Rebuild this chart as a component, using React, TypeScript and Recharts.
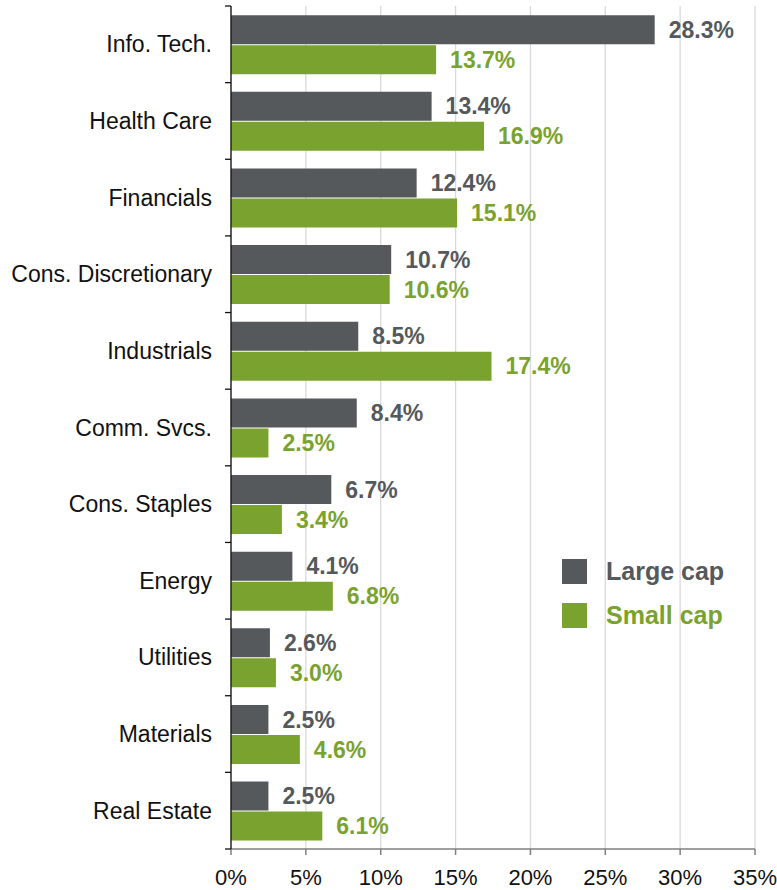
import React from 'react';
import { BarChart, Bar, XAxis, YAxis, CartesianGrid, LabelList } from 'recharts';

const sectors = [
  'Info. Tech.',
  'Health Care',
  'Financials',
  'Cons. Discretionary',
  'Industrials',
  'Comm. Svcs.',
  'Cons. Staples',
  'Energy',
  'Utilities',
  'Materials',
  'Real Estate',
];
const largeCap = [28.3, 13.4, 12.4, 10.7, 8.5, 8.4, 6.7, 4.1, 2.6, 2.5, 2.5];
const smallCap = [13.7, 16.9, 15.1, 10.6, 17.4, 2.5, 3.4, 6.8, 3.0, 4.6, 6.1];
const xTicks = [0, 5, 10, 15, 20, 25, 30, 35];

const GRAY = '#55595c';
const GREEN = '#7aa22f';
const FONT = '"Liberation Sans", Arial, sans-serif';

const W = 777;
const H = 890;
const TOP = 6;
const LEFT = 231;
const BOTTOM_AXIS = 41;
const BAND = (H - TOP - BOTTOM_AXIS) / sectors.length;

const chartData = sectors.map((name, i) => ({ name, large: largeCap[i], small: smallCap[i] }));

const fmt = (v: any) => `${Number(v).toFixed(1)}%`;

const SectorTick = (props: any) => {
  const { y, payload, index } = props;
  return (
    <g>
      <text x={LEFT - 19} y={y} dy={8} textAnchor="end" fontSize={23} fill="#111" fontFamily={FONT}>
        {payload.value}
      </text>
      <line x1={LEFT - 6} x2={LEFT} y1={y - BAND / 2} y2={y - BAND / 2} stroke="#111" strokeWidth={1.3} />
      {index === sectors.length - 1 && (
        <line x1={LEFT - 6} x2={LEFT} y1={y + BAND / 2} y2={y + BAND / 2} stroke="#111" strokeWidth={1.3} />
      )}
    </g>
  );
};

const legendItems = [
  { label: 'Large cap', color: GRAY },
  { label: 'Small cap', color: GREEN },
];

export default function App() {
  return (
    <div style={{ position: 'absolute', left: 0, top: 0, width: W, height: H, background: '#fff' }}>
      <BarChart
        width={W}
        height={H}
        data={chartData}
        layout="vertical"
        margin={{ top: TOP, right: 22, left: 0, bottom: 0 }}
        barCategoryGap="12%"
        barGap={1}
      >
        <CartesianGrid horizontal={false} stroke="#d9d9d9" strokeWidth={1.3} />
        <XAxis
          type="number"
          domain={[0, 35]}
          ticks={xTicks}
          tickFormatter={(v) => `${v}%`}
          height={BOTTOM_AXIS}
          axisLine={{ stroke: '#7f7f7f', strokeWidth: 1.5 }}
          tickLine={{ stroke: '#7f7f7f', strokeWidth: 1.5 }}
          tickSize={6}
          tickMargin={14}
          tick={{ fontSize: 22, fill: '#111', fontFamily: FONT }}
          interval={0}
        />
        <YAxis
          type="category"
          dataKey="name"
          width={LEFT}
          axisLine={{ stroke: '#111', strokeWidth: 1.3 }}
          tickLine={false}
          tick={<SectorTick />}
          interval={0}
        />
        <Bar dataKey="large" name="Large cap" fill={GRAY} isAnimationActive={false}>
          <LabelList
            dataKey="large"
            position="right"
            offset={14}
            formatter={fmt}
            style={{ fill: GRAY, fontWeight: 'bold', fontSize: 23, fontFamily: FONT }}
          />
        </Bar>
        <Bar dataKey="small" name="Small cap" fill={GREEN} isAnimationActive={false}>
          <LabelList
            dataKey="small"
            position="right"
            offset={14}
            formatter={fmt}
            style={{ fill: GREEN, fontWeight: 'bold', fontSize: 23, fontFamily: FONT }}
          />
        </Bar>
      </BarChart>
      <div style={{ position: 'absolute', left: 562, top: 549, fontFamily: FONT, fontWeight: 'bold', fontSize: 25 }}>
        {legendItems.map((it) => (
          <div key={it.label} style={{ display: 'flex', alignItems: 'center', height: 44 }}>
            <div style={{ width: 25, height: 25, background: it.color, marginRight: 19 }} />
            <span style={{ color: it.color }}>{it.label}</span>
          </div>
        ))}
      </div>
    </div>
  );
}
